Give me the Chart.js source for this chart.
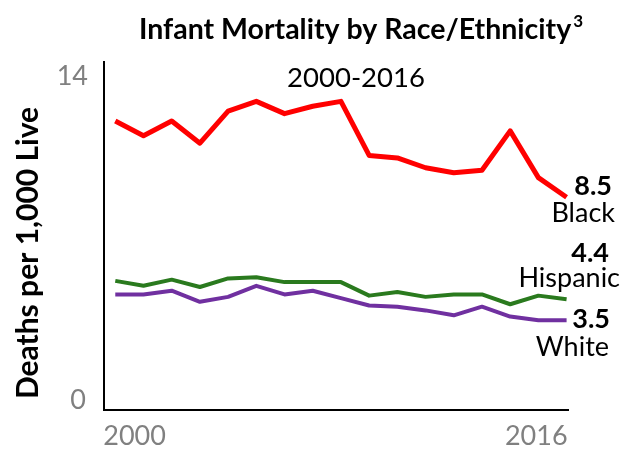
<!DOCTYPE html>
<html>
<head>
<meta charset="utf-8">
<script src="https://cdn.jsdelivr.net/npm/chart.js@4.4.0/dist/chart.umd.min.js"></script>
<style>
    body { margin: 0; background: #fff; }
    canvas { display: block; }
</style>
</head>
<body>
<canvas id="chart" width="634" height="449"></canvas>
<script>
// Data
const years = [2000, 2001, 2002, 2003, 2004, 2005, 2006, 2007, 2008, 2009, 2010, 2011, 2012, 2013, 2014, 2015, 2016];
const black = [11.6, 11.0, 11.6, 10.7, 12.0, 12.4, 11.9, 12.2, 12.4, 10.2, 10.1, 9.7, 9.5, 9.6, 11.2, 9.3, 8.5];
const hispanic = [5.1, 4.9, 5.15, 4.85, 5.2, 5.25, 5.05, 5.05, 5.05, 4.5, 4.65, 4.45, 4.55, 4.55, 4.15, 4.5, 4.35];
const white = [4.55, 4.55, 4.7, 4.25, 4.45, 4.9, 4.55, 4.7, 4.4, 4.1, 4.05, 3.9, 3.7, 4.05, 3.65, 3.5, 3.5];
const seriesNames = ['Black', 'Hispanic', 'White'];
const endValues = ['8.5', '4.4', '3.5'];
const yTicks = [14, 0];
const xTicks = [2000, 2016];

const FONT = 'Lato, "Open Sans", sans-serif';

function toPoints(values) {
    return years.map((year, i) => ({ x: year, y: values[i] }));
}

// Text drawn over the chart: title, subtitle, axis title, tick labels, end labels
const textPlugin = {
    id: 'textPlugin',
    afterDraw(chart) {
        const ctx = chart.ctx;
        const area = chart.chartArea;
        const xs = chart.scales.x;
        const ys = chart.scales.y;
        ctx.save();
        ctx.fillStyle = '#000';
        ctx.textBaseline = 'alphabetic';

        // title with superscript
        ctx.font = 'bold 28.5px ' + FONT;
        const main = 'Infant Mortality by Race/Ethnicity';
        const w1 = ctx.measureText(main).width;
        ctx.font = 'bold 17px ' + FONT;
        const w2 = ctx.measureText('3').width;
        const startX = 360 - (w1 + w2) / 2;
        ctx.font = 'bold 28.5px ' + FONT;
        ctx.textAlign = 'left';
        ctx.fillText(main, startX, 39);
        ctx.font = 'bold 17px ' + FONT;
        ctx.fillText('3', startX + w1 + 2, 27);

        // subtitle
        ctx.font = '27.5px ' + FONT;
        ctx.textAlign = 'center';
        ctx.fillText('2000-2016', 356, 87);

        // y axis title
        ctx.save();
        ctx.translate(38, 253);
        ctx.rotate(-Math.PI / 2);
        ctx.font = 'bold 30px ' + FONT;
        ctx.fillText('Deaths per 1,000 Live', 0, 0);
        ctx.restore();

        // tick labels
        ctx.fillStyle = '#808080';
        ctx.font = '27px ' + FONT;
        ctx.textAlign = 'right';
        ctx.fillText(String(yTicks[0]), area.left - 16, ys.getPixelForValue(yTicks[0]) + 23);
        ctx.fillText(String(yTicks[1]), area.left - 18, ys.getPixelForValue(yTicks[1]) + 3);
        ctx.textAlign = 'left';
        ctx.fillText(String(xTicks[0]), xs.getPixelForValue(xTicks[0]) - 12, area.bottom + 35);
        ctx.textAlign = 'right';
        ctx.fillText(String(xTicks[1]), xs.getPixelForValue(xTicks[1]) + 1, area.bottom + 35);

        // end labels
        const lastIdx = years.length - 1;
        const series = [black, hispanic, white];
        const valueDy = [-2, -37, 8];
        const nameDy = [25, -12, 36];
        const valueRight = [612, 609, 610];
        const nameRight = [615, 620, 609];
        ctx.fillStyle = '#000';
        ctx.textAlign = 'right';
        series.forEach((s, i) => {
            const py = ys.getPixelForValue(s[lastIdx]);
            ctx.font = 'bold 27px ' + FONT;
            ctx.fillText(endValues[i], valueRight[i], py + valueDy[i]);
            ctx.font = '27px ' + FONT;
            ctx.fillText(seriesNames[i], nameRight[i], py + nameDy[i]);
        });
        ctx.restore();
    }
};

const ctx = document.getElementById('chart').getContext('2d');
new Chart(ctx, {
    type: 'line',
    data: {
        datasets: [
            { label: seriesNames[0], data: toPoints(black), borderColor: '#ff0000', borderWidth: 5 },
            { label: seriesNames[1], data: toPoints(hispanic), borderColor: '#2a7a1e', borderWidth: 4 },
            { label: seriesNames[2], data: toPoints(white), borderColor: '#7030a0', borderWidth: 4 }
        ]
    },
    options: {
        responsive: false,
        animation: false,
        layout: { padding: { top: 62, right: 66, left: 0, bottom: 0 } },
        elements: {
            point: { radius: 0 },
            line: { tension: 0, borderJoinStyle: 'round', fill: false }
        },
        plugins: {
            legend: { display: false },
            tooltip: { enabled: false }
        },
        scales: {
            x: {
                type: 'linear',
                min: 1999.6,
                max: 2016.05,
                grid: { display: false, drawTicks: false },
                border: { color: '#000', width: 2 },
                ticks: { display: false },
                afterFit: function(scale) { scale.height = 39; }
            },
            y: {
                min: -0.15,
                max: 14,
                grid: { display: false, drawTicks: false },
                border: { color: '#000', width: 2 },
                ticks: { display: false },
                afterFit: function(scale) { scale.width = 104; }
            }
        }
    },
    plugins: [textPlugin]
});
</script>
</body>
</html>
